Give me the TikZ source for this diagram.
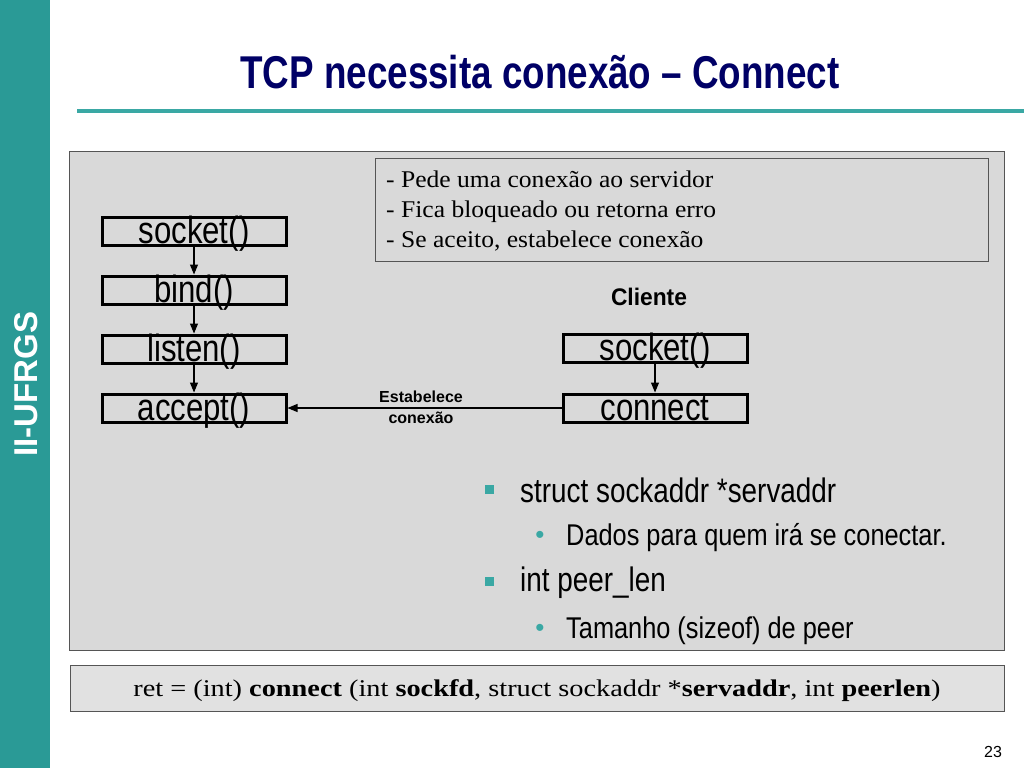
\documentclass[tikz,border=0pt]{standalone}
\usepackage{fontspec}
\setmainfont{Liberation Serif}
\setsansfont{Liberation Sans}
\usetikzlibrary{arrows.meta}
\definecolor{teal1}{HTML}{2A9A96}
\definecolor{teal2}{HTML}{3AA8A4}
\definecolor{navy}{HTML}{000066}
\definecolor{panel}{HTML}{D9D9D9}
\definecolor{edge}{HTML}{555555}
\newcommand{\nar}[1]{\scalebox{0.82}[1]{#1}}
\tikzset{
  fnbox/.style={draw=black, line width=3pt, minimum width=184pt, minimum height=28pt,
    inner sep=0pt, text height=26pt, text depth=2pt,
    font=\sffamily\fontsize{38}{38}\selectfont},
  flow/.style={-{Triangle[length=10pt,width=8pt]}, line width=1.1pt},
  lbl/.style={font=\sffamily\bfseries\fontsize{16}{16}\selectfont, inner sep=0pt},
  bul/.style={anchor=west, inner sep=0pt, font=\sffamily\fontsize{34}{34}\selectfont},
  subbul/.style={anchor=west, inner sep=0pt, font=\sffamily\fontsize{30}{30}\selectfont},
}
\begin{document}
\begin{tikzpicture}[x=1pt,y=-1pt]
\useasboundingbox (0,0) rectangle (1024,768);
\fill[white] (0,0) rectangle (1024,768);
% left bar
\fill[teal1] (0,0) rectangle (50,768);
\node[rotate=90, text=white, font=\sffamily\bfseries\fontsize{33}{33}\selectfont, inner sep=0pt] (brand) at (26,384) {II-UFRGS};
% title
\node[text=navy, font=\sffamily\bfseries\fontsize{46}{46}\selectfont, inner sep=0pt] (title) at (540,72) {\scalebox{0.8}[1]{TCP necessita conexão – Connect}};
\draw[teal2, line width=4pt] (77,111) -- (1024,111);
% panel
\node[draw=edge, fill=panel, line width=1pt, minimum width=935pt, minimum height=499pt, inner sep=0pt, anchor=north west] (panel) at (69,151) {};
% note box
\node[draw=edge, line width=1pt, minimum width=613pt, minimum height=103pt, inner sep=0pt, anchor=north west] (note) at (375,158) {};
\node[anchor=north west, align=left, inner sep=0pt, font=\rmfamily\fontsize{24}{30}\selectfont] (notetext) at (386,171)
  {\scalebox{1.065}[1]{- Pede uma conexão ao servidor}\\\scalebox{1.065}[1]{- Fica bloqueado ou retorna erro}\\\scalebox{1.065}[1]{- Se aceito, estabelece conexão}};
% server boxes
\node[fnbox] (ssock) at (194,231.5) {\nar{socket()}};
\node[fnbox] (sbind) at (194,290) {\nar{bind()}};
\node[fnbox] (slisten) at (194,349) {\nar{listen()}};
\node[fnbox] (saccept) at (194,408) {\nar{accept()}};
\draw[flow] (ssock) -- (sbind);
\draw[flow] (sbind) -- (slisten);
\draw[flow] (slisten) -- (saccept);
% client
\node[font=\sffamily\bfseries\fontsize{24}{24}\selectfont, inner sep=0pt] (cliente) at (649,297) {\scalebox{0.95}[1]{Cliente}};
\node[fnbox] (csock) at (655,348.5) {\nar{socket()}};
\node[fnbox] (cconn) at (655,408) {\nar{connect}};
\draw[flow] (csock) -- (cconn);
\draw[flow] (cconn.west) -- (saccept.east);
\node[lbl] (estab1) at (421,397) {Estabelece};
\node[lbl] (estab2) at (421,418) {conexão};
% bullets
\node[fill=teal2, minimum size=9pt, inner sep=0pt] (b1) at (489,489) {};
\node[bul] (t1) at (520,490) {\nar{struct sockaddr *servaddr}};
\node[text=teal2, font=\sffamily\fontsize{26}{26}\selectfont, inner sep=0pt] (d1) at (540,537) {•};
\node[subbul] (t2) at (566,538) {\scalebox{0.845}[1]{Dados para quem irá se conectar.}};
\node[fill=teal2, minimum size=9pt, inner sep=0pt] (b2) at (489,581) {};
\node[bul] (t3) at (520,583) {\nar{int peer\_len}};
\node[text=teal2, font=\sffamily\fontsize{26}{26}\selectfont, inner sep=0pt] (d2) at (540,630) {•};
\node[subbul] (t4) at (566,631) {\scalebox{0.845}[1]{Tamanho (sizeof) de peer}};
% bottom box
\node[draw=edge, fill=panel!80!white, line width=1pt, minimum width=934pt, minimum height=46pt, inner sep=0pt, anchor=north west] (sig) at (70,665) {};
\node[font=\rmfamily\fontsize{24}{24}\selectfont, inner sep=0pt] (sigtext) at (537,691)
  {\scalebox{1.18}[1]{ret = (int) \textbf{connect} (int \textbf{sockfd}, struct sockaddr *\textbf{servaddr}, int \textbf{peerlen})}};
% page number
\node[font=\sffamily\fontsize{16}{16}\selectfont, inner sep=0pt] (pg) at (993,752) {23};
\end{tikzpicture}
\end{document}
